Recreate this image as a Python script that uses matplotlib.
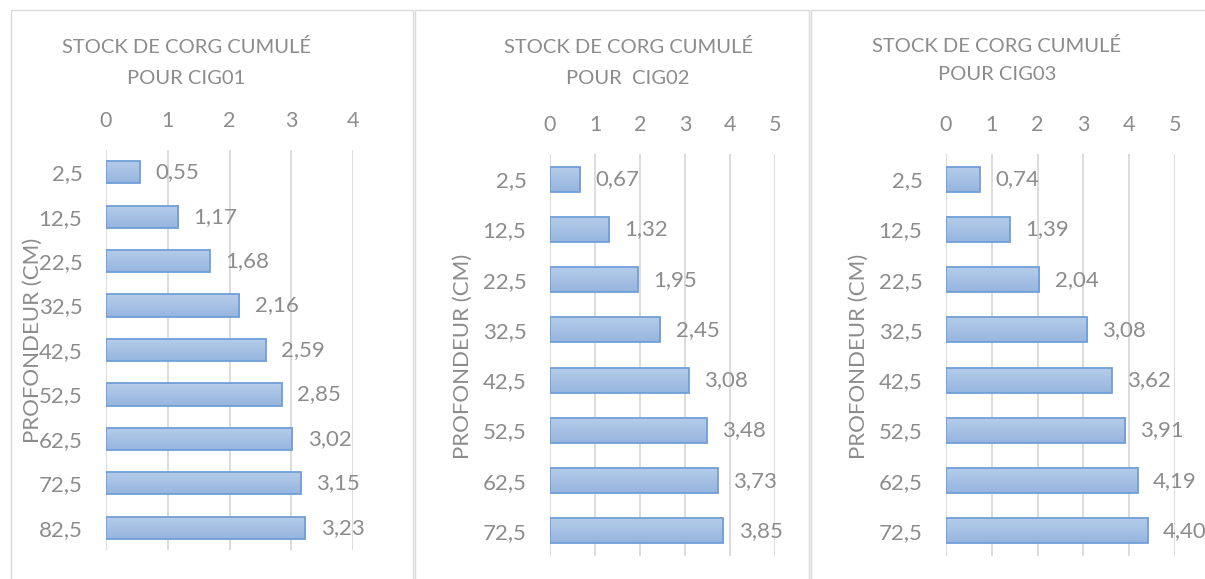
import numpy as np
import matplotlib
matplotlib.use("Agg")
import matplotlib.pyplot as plt
from matplotlib.patches import Rectangle
from matplotlib.colors import LinearSegmentedColormap

plt.rcParams['font.family'] = ['Lato', 'DejaVu Sans']

# Depths (cm) and cumulative Corg stock per core
depths_cig01 = ["2,5", "12,5", "22,5", "32,5", "42,5", "52,5", "62,5", "72,5", "82,5"]
stock_cig01 = [0.55, 1.17, 1.68, 2.16, 2.59, 2.85, 3.02, 3.15, 3.23]

depths_cig02 = ["2,5", "12,5", "22,5", "32,5", "42,5", "52,5", "62,5", "72,5"]
stock_cig02 = [0.67, 1.32, 1.95, 2.45, 3.08, 3.48, 3.73, 3.85]

depths_cig03 = ["2,5", "12,5", "22,5", "32,5", "42,5", "52,5", "62,5", "72,5"]
stock_cig03 = [0.74, 1.39, 2.04, 3.08, 3.62, 3.91, 4.19, 4.40]

titles = [("STOCK DE CORG CUMULÉ", "POUR CIG01"),
          ("STOCK DE CORG CUMULÉ", "POUR  CIG02"),
          ("STOCK DE CORG CUMULÉ", "POUR CIG03")]
ylabel = "PROFONDEUR (CM)"
xmax = [4, 5, 5]

W, H = 1205, 579
fig = plt.figure(figsize=(W / 100, H / 100), dpi=100)
fig.patch.set_facecolor("white")

TXT = "#8c8c8c"
GRID = "#d9d9d9"
EDGE = "#6f9fd8"
grad = LinearSegmentedColormap.from_list("barfill", ["#b6cdea", "#96b5df"])


def fx(px):
    return px / W


def fy(py):
    return 1 - py / H


# panel frames (x0, x1) in pixels
frames = [(11, 413), (415, 809), (811, 1215)]
for x0, x1 in frames:
    fig.add_artist(Rectangle((fx(x0), fy(600)), fx(x1 - x0), (600 - 10) / H,
                             transform=fig.transFigure, fill=False,
                             edgecolor=GRID, linewidth=1.0))

# plot areas: left, right, top, bottom (pixels)
areas = [(106, 353, 150, 550), (550, 775, 154, 556), (946, 1175, 154, 556)]
title_pos = [(186, 47, 78), (628, 47, 78), (997, 46, 75)]
ylabel_pos = [(33, 340), (463, 356), (859, 356)]

data = [(depths_cig01, stock_cig01), (depths_cig02, stock_cig02),
        (depths_cig03, stock_cig03)]

for i, ((labels, vals), (l, r, t, b)) in enumerate(zip(data, areas)):
    ax = fig.add_axes([fx(l), fy(b), fx(r - l), (b - t) / H])
    ypos = np.arange(len(labels))
    bars = ax.barh(ypos, vals, height=0.5, facecolor="none",
                   edgecolor=EDGE, linewidth=1.3, zorder=3)
    for rect in bars:
        x0, y0 = rect.get_x(), rect.get_y()
        w, h = rect.get_width(), rect.get_height()
        im = ax.imshow(np.linspace(0, 1, 64).reshape(-1, 1), cmap=grad,
                       aspect="auto", extent=[x0, x0 + w, y0 + h, y0],
                       origin="upper", zorder=2)
        im.set_clip_path(rect)
    for y, v in zip(ypos, vals):
        ax.annotate(f"{v:.2f}".replace(".", ","), (v, y),
                    xytext=(11, 0), textcoords="offset points",
                    ha="left", va="center", color=TXT, fontsize=16)
    ax.set_xlim(0, xmax[i])
    ax.set_ylim(len(labels) - 0.5, -0.5)
    ax.set_xticks(range(xmax[i] + 1))
    ax.set_yticks(ypos)
    ax.set_yticklabels(labels)
    ax.xaxis.tick_top()
    ax.tick_params(axis="x", length=0, pad=14, labelsize=15.5, labelcolor=TXT)
    ax.tick_params(axis="y", length=0, pad=17, labelsize=16, labelcolor=TXT)
    ax.grid(axis="x", color=GRID, linewidth=1.3, zorder=0)
    ax.set_axisbelow(True)
    for s in ax.spines.values():
        s.set_visible(False)
    ax.patch.set_alpha(0)

    tx, ty1, ty2 = title_pos[i]
    line1, line2 = titles[i]
    fig.text(fx(tx), fy(ty1), line1, ha="center", va="center",
             color=TXT, fontsize=14.5)
    fig.text(fx(tx), fy(ty2), line2, ha="center", va="center",
             color=TXT, fontsize=14.5)
    lx, ly = ylabel_pos[i]
    fig.text(fx(lx), fy(ly), ylabel, rotation=90, ha="center", va="center",
             color=TXT, fontsize=16)

fig.savefig("out.png", dpi=100, facecolor="white")
